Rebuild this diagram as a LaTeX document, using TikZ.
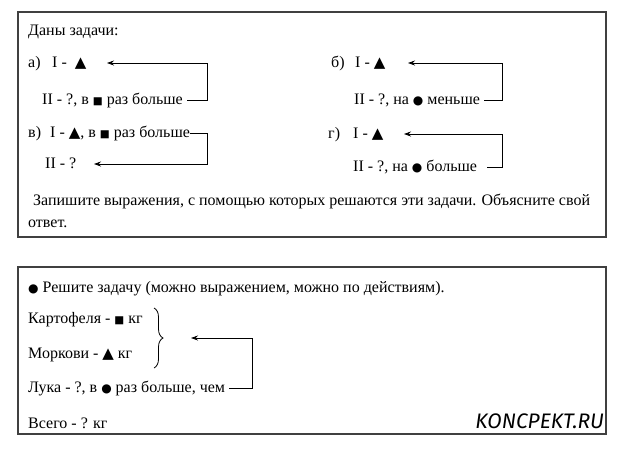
\documentclass[tikz,border=0pt]{standalone}
\usepackage{fontspec}
\setmainfont{Liberation Serif}
\newfontfamily\txtf{Liberation Serif}
\newfontfamily\symf{DejaVu Sans}
\newfontfamily\logof{Fira Sans}
\usetikzlibrary{arrows.meta,decorations.pathreplacing}
\newcommand{\tri}{{\symf\fontsize{15}{15}\selectfont ▲}}
\newcommand{\sqr}{{\symf\fontsize{10.5}{11}\selectfont ■}}
\newcommand{\dotb}{{\symf\fontsize{12}{12}\selectfont ●}}
\tikzset{
  txt/.style={anchor=base west, inner sep=0pt, text height=11pt, text depth=3pt, font=\txtf\fontsize{16}{18}\selectfont},
  frame/.style={draw=black!75, line width=1.1pt},
  arr/.style={draw=black, line width=0.8pt, -{Stealth[length=7pt,width=5pt]}},
  ln/.style={draw=black, line width=0.8pt}
}
\begin{document}
\begin{tikzpicture}[x=1pt,y=-1pt]
\useasboundingbox (0,0) rectangle (620,451);
% boxes
\draw[frame] (18,12) rectangle (606,237);
\draw[frame] (18,267) rectangle (606,434);
% box 1
\node[txt] (title) at (28,35) {Даны задачи:};
\node[txt] (la) at (28,67) {а)};
\node[txt] (a1) at (52,67) {I -\ \ \tri};
\node[txt] (a2) at (42,104) {II - ?, в \sqr\ раз больше};
\coordinate (ra) at (207,0);
\coordinate (ta) at (107,0);
\draw[arr] ([xshift=4pt]a2.east) -| (ra |- a1.east) -- (ta |- a1.east);

\node[txt] (lb) at (331,67) {б)};
\node[txt] (b1) at (355,67) {I - \tri};
\node[txt] (b2) at (354,104) {II - ?, на \dotb\ меньше};
\coordinate (rb) at (502,0);
\coordinate (tb) at (408,0);
\draw[arr] ([xshift=4pt]b2.east) -| (rb |- b1.east) -- (tb |- b1.east);

\node[txt] (lv) at (28,137) {в)};
\node[txt] (v1) at (50,137) {I - \tri, в \sqr\ раз больше};
\node[txt] (v2) at (45,168) {II - ?};
\coordinate (rv) at (207,0);
\coordinate (tv) at (94,0);
\draw[arr] (v1.east) -| (rv |- v2.east) -- (tv |- v2.east);

\node[txt] (lg) at (328,138) {г)};
\node[txt] (g1) at (353,138) {I - \tri};
\node[txt] (g2) at (353,171) {II - ?, на \dotb\ больше};
\coordinate (rg) at (502,0);
\coordinate (tg) at (404,0);
\draw[arr] ([xshift=10pt]g2.east) -| (rg |- g1.east) -- (tg |- g1.east);

\node[txt] (q1) at (33,205) {Запишите выражения, с помощью которых решаются эти задачи. Объясните свой};
\node[txt] (q2) at (28,227) {ответ.};

% box 2
\node[txt] (h) at (28,292) {\dotb\ Решите задачу (можно выражением, можно по действиям).};
\node[txt] (k) at (28,323) {Картофеля - \sqr\ кг};
\node[txt] (m) at (28,358) {Моркови - \tri\ кг};
\node[txt] (l) at (28,392) {Лука - ?, в \dotb\ раз больше, чем};
\node[txt] (s) at (28,428) {Всего - ? кг};
\draw[line width=0.8pt, decorate, decoration={brace, amplitude=9pt}] (154,308) -- (154,368);
\coordinate (bt) at (173,338);
\coordinate (rl) at (252,0);
\coordinate (tl) at (191,0);
\draw[arr] ([xshift=4pt]l.east) -| (rl |- bt) -- (tl |- bt);
\node[anchor=base east, inner sep=0pt, font=\logof\itshape\fontsize{21}{21}\selectfont] (logo) at (604,428) {KONCPEKT.RU};
\end{tikzpicture}
\end{document}
